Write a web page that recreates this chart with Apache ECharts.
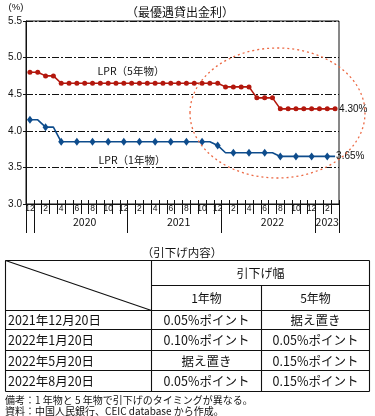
<!DOCTYPE html>
<html><head><meta charset="utf-8">
<script src="https://cdn.jsdelivr.net/npm/echarts@6/dist/echarts.min.js"></script>
<style>html,body{margin:0;padding:0;background:#fff}#c{width:375px;height:416px}</style>
</head><body><div id="c"></div>
<script>
// ---- data ----
const months = ['2019-12','2020-01','2020-02','2020-03','2020-04','2020-05','2020-06','2020-07','2020-08','2020-09','2020-10','2020-11','2020-12',
'2021-01','2021-02','2021-03','2021-04','2021-05','2021-06','2021-07','2021-08','2021-09','2021-10','2021-11','2021-12',
'2022-01','2022-02','2022-03','2022-04','2022-05','2022-06','2022-07','2022-08','2022-09','2022-10','2022-11','2022-12',
'2023-01','2023-02','2023-03'];
const lpr5y = [4.80,4.80,4.75,4.75,4.65,4.65,4.65,4.65,4.65,4.65,4.65,4.65,4.65,
4.65,4.65,4.65,4.65,4.65,4.65,4.65,4.65,4.65,4.65,4.65,4.65,
4.60,4.60,4.60,4.60,4.45,4.45,4.45,4.30,4.30,4.30,4.30,4.30,
4.30,4.30,4.30];
const lpr1y = [4.15,4.15,4.05,4.05,3.85,3.85,3.85,3.85,3.85,3.85,3.85,3.85,3.85,
3.85,3.85,3.85,3.85,3.85,3.85,3.85,3.85,3.85,3.85,3.85,3.80,
3.70,3.70,3.70,3.70,3.70,3.70,3.70,3.65,3.65,3.65,3.65,3.65,
3.65,3.65,3.65];
const seriesNames = ['LPR（5年物）','LPR（1年物）'];
const yTicks = [3.0,3.5,4.0,4.5,5.0,5.5];
const yearTickIdx = [0,1,13,25,37];
const yearLabelIdx = [7,19,31,38];
const chartTitle = '（最優遇貸出金利）';
const unitLabel = '(%)';
const tableTitle = '（引下げ内容）';
const tableHeader = ['引下げ幅','1年物','5年物'];
const cutDates = ['2021年12月20日','2022年1月20日','2022年5月20日','2022年8月20日'];
const cut1y = ['0.05%ポイント','0.10%ポイント','据え置き','0.05%ポイント'];
const cut5y = ['据え置き','0.05%ポイント','0.15%ポイント','0.15%ポイント'];
const notes = ['備考：1 年物と 5 年物で引下げのタイミングが異なる。','資料：中国人民銀行、CEIC database から作成。'];

// ---- styles ----
const JP = '"Noto Sans CJK JP","Noto Sans",sans-serif';
const NUM = '"Liberation Sans Narrow","Liberation Sans",Arial,sans-serif';
const RED = '#b3170d', BLUE = '#0e4c8c';

const chart = echarts.init(document.getElementById('c'));

// table graphics
const g = [];
const ln = (x1,y1,x2,y2)=>g.push({type:'line',silent:true,shape:{x1,y1,x2,y2},style:{stroke:'#111',lineWidth:1.1}});
const tx = (x,y,text,opt)=>g.push({type:'text',silent:true,x,y,style:Object.assign({text,fill:'#111',font:'12px '+JP,align:'center',verticalAlign:'middle'},opt||{})});
const TL=5.5, C1=151.5, C2=261.5, TR=369.5;
const rowY=[260.5,285.5,310.5,329.5,350.5,370.5,391.5];
ln(TL,rowY[0],TR,rowY[0]);
ln(C1,rowY[1],TR,rowY[1]);
for(let i=2;i<rowY.length;i++) ln(TL,rowY[i],TR,rowY[i]);
ln(TL,rowY[0],TL,rowY[6]); ln(C1,rowY[0],C1,rowY[6]); ln(C2,rowY[1],C2,rowY[6]); ln(TR,rowY[0],TR,rowY[6]);
ln(TL,rowY[0],C1,rowY[2]);
tx((C1+TR)/2,(rowY[0]+rowY[1])/2,tableHeader[0],{font:'12px '+JP});
tx((C1+C2)/2,(rowY[1]+rowY[2])/2,tableHeader[1],{font:'12px '+JP});
tx((C2+TR)/2,(rowY[1]+rowY[2])/2,tableHeader[2],{font:'12px '+JP});
cutDates.forEach((d,i)=>{
  const y=(rowY[i+2]+rowY[i+3])/2+0.5;
  tx(8,y,d,{align:'left',font:'12.5px '+JP});
  tx((C1+C2)/2,y,cut1y[i],{font:'12.5px '+JP});
  tx((C2+TR)/2,y,cut5y[i],{font:'12.5px '+JP});
});
tx(182,253,tableTitle,{font:'11.5px '+JP});
tx(5,400,notes[0],{align:'left',font:'10px '+JP});
tx(5,411.5,notes[1],{align:'left',font:'10px '+JP});
// chart texts
tx(180,12.5,chartTitle,{font:'12px '+JP});
tx(16,7,unitLabel,{font:'9.5px '+NUM});
tx(131,71,seriesNames[0],{font:'10.5px '+JP});
tx(132,160,seriesNames[1],{font:'10.5px '+JP});
// highlight ellipse
g.push({type:'ellipse',silent:true,z:100,shape:{cx:277.5,cy:113,rx:87.5,ry:65},style:{fill:null,stroke:'#ec6a45',lineWidth:1.3,lineDash:[2,3]}});

const baseX = {type:'category',data:months,boundaryGap:true,position:'bottom',gridIndex:0};
chart.setOption({
  animation:false,
  grid:{left:26,right:36,top:21,bottom:212,show:true,borderColor:'#111',borderWidth:1,backgroundColor:'transparent'},
  xAxis:[
    Object.assign({},baseX,{
      axisLine:{lineStyle:{color:'#111',width:1}},
      axisTick:{show:true,interval:0,length:10,lineStyle:{color:'#111'}},
      axisLabel:{interval:1,formatter:v=>String(+v.slice(5)),fontSize:8.5,margin:0,color:'#111',fontFamily:NUM}
    }),
    Object.assign({},baseX,{
      axisLine:{show:false},
      axisTick:{show:true,inside:true,interval:0,length:4,lineStyle:{color:'#111'}},
      axisLabel:{show:false}
    }),
    Object.assign({},baseX,{
      axisLine:{show:false},
      axisTick:{show:true,interval:(i)=>yearTickIdx.includes(i),length:29,lineStyle:{color:'#111'}},
      axisLabel:{interval:(i)=>yearLabelIdx.includes(i),formatter:v=>v.slice(0,4),fontSize:10.5,margin:13,color:'#111',fontFamily:JP}
    })
  ],
  yAxis:{type:'value',min:yTicks[0],max:yTicks[yTicks.length-1],interval:0.5,
    axisLine:{show:true,lineStyle:{color:'#111'}},
    axisTick:{show:true,length:3,lineStyle:{color:'#111'}},
    axisLabel:{formatter:v=>v.toFixed(1),fontSize:10,margin:4,color:'#111',fontFamily:NUM},
    splitLine:{show:true,lineStyle:{color:'#111',width:1,type:[7,2,2,2]}}
  },
  series:[
    {name:seriesNames[0],type:'line',data:lpr5y,xAxisIndex:0,symbol:'circle',symbolSize:5,
      lineStyle:{color:RED,width:1.6},itemStyle:{color:RED},
      endLabel:{show:true,formatter:p=>p.value.toFixed(2)+'%',distance:4,color:'#111',fontSize:10,fontFamily:NUM}},
    {name:seriesNames[1],type:'line',data:lpr1y,xAxisIndex:0,symbol:'diamond',symbolSize:[6,8],
      lineStyle:{color:BLUE,width:1.6},itemStyle:{color:BLUE},
      endLabel:{show:true,formatter:p=>p.value.toFixed(2)+'%',distance:1,color:'#111',fontSize:10,fontFamily:NUM}}
  ],
  graphic:g
});
</script></body></html>
